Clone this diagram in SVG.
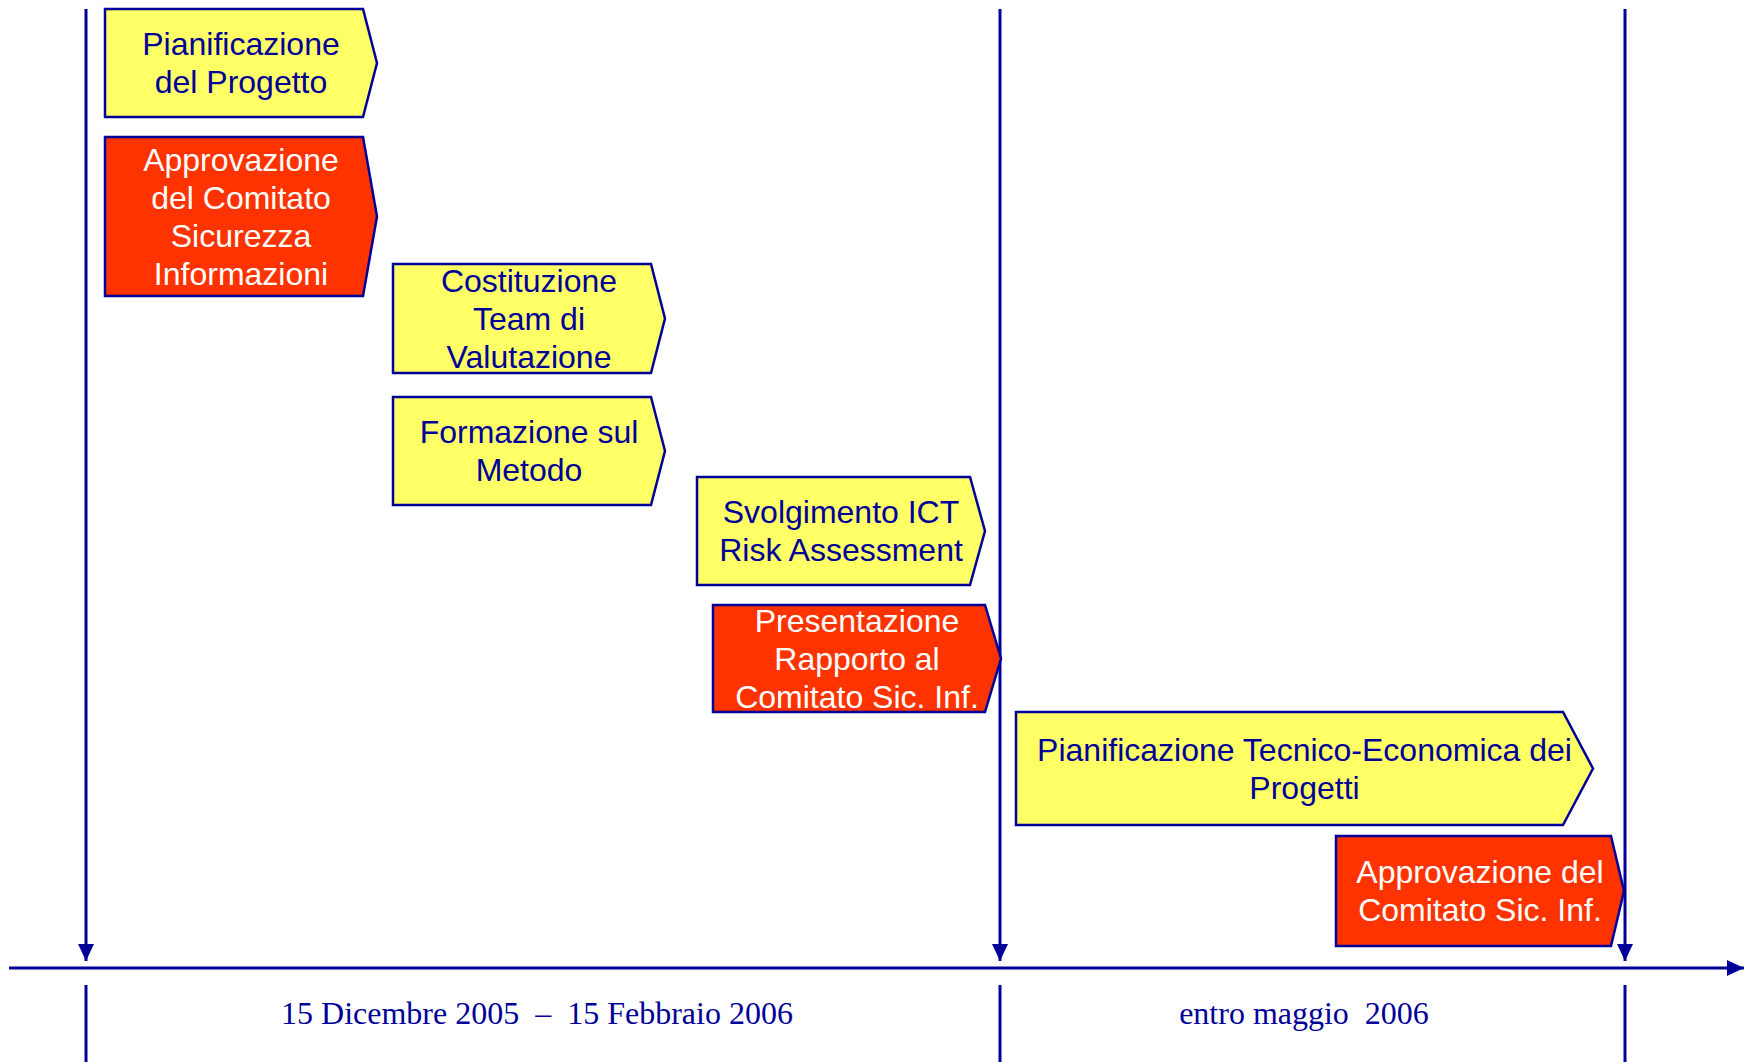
<svg xmlns="http://www.w3.org/2000/svg" width="1760" height="1062" viewBox="0 0 1760 1062">
<style>
.y{fill:#FFFF66;stroke:#000099;stroke-width:2.5;stroke-linejoin:miter}
.r{fill:#FF3300;stroke:#000099;stroke-width:2.5;stroke-linejoin:miter}
.t{font-family:"Liberation Sans",Arial,sans-serif;font-size:32px;text-anchor:middle}
.ty{fill:#000099}
.tr{fill:#FFFFFF}
.ln{stroke:#000099;stroke-width:3;fill:none}
.d{font-family:"Liberation Serif","Times New Roman",serif;font-size:32px;fill:#000099;text-anchor:middle;white-space:pre}
</style>
<defs>
<marker id="ah" markerUnits="userSpaceOnUse" markerWidth="17" markerHeight="16" refX="17" refY="8" orient="auto">
<path d="M0,0 L17,8 L0,16 z" fill="#000099"/>
</marker>
</defs>
<rect width="1760" height="1062" fill="#FFFFFF"/>
<g id="connectors">
<line class="ln" x1="9" y1="968" x2="1744" y2="968" marker-end="url(#ah)"/>
<line class="ln" x1="86" y1="9" x2="86" y2="961" marker-end="url(#ah)"/>
<line class="ln" x1="1000" y1="9" x2="1000" y2="961" marker-end="url(#ah)"/>
<line class="ln" x1="1625" y1="9" x2="1625" y2="961" marker-end="url(#ah)"/>
<line class="ln" x1="86" y1="985" x2="86" y2="1062"/>
<line class="ln" x1="1000" y1="985" x2="1000" y2="1062"/>
<line class="ln" x1="1625" y1="985" x2="1625" y2="1062"/>
</g>
<g id="n1">
<polygon class="y" points="105,9 363,9 377,63 363,117 105,117"/>
<text class="t ty" x="241" y="55">Pianificazione</text>
<text class="t ty" x="241" y="93">del Progetto</text>
</g>
<g id="n2">
<polygon class="r" points="105,137 363,137 377,216.5 363,296 105,296"/>
<text class="t tr" x="241" y="170.5">Approvazione</text>
<text class="t tr" x="241" y="208.5">del Comitato</text>
<text class="t tr" x="241" y="246.5">Sicurezza</text>
<text class="t tr" x="241" y="284.5">Informazioni</text>
</g>
<g id="n3">
<polygon class="y" points="393,264 651,264 665,318.5 651,373 393,373"/>
<text class="t ty" x="529" y="291.5">Costituzione</text>
<text class="t ty" x="529" y="329.5">Team di</text>
<text class="t ty" x="529" y="367.5">Valutazione</text>
</g>
<g id="n4">
<polygon class="y" points="393,397 651,397 665,451 651,505 393,505"/>
<text class="t ty" x="529" y="443">Formazione sul</text>
<text class="t ty" x="529" y="481">Metodo</text>
</g>
<g id="n5">
<polygon class="y" points="697,477 970,477 985,531 970,585 697,585"/>
<text class="t ty" x="841" y="523">Svolgimento ICT</text>
<text class="t ty" x="841" y="561">Risk Assessment</text>
</g>
<g id="n6">
<polygon class="r" points="713,605 985,605 1001,658.5 985,712 713,712"/>
<text class="t tr" x="857" y="631.5">Presentazione</text>
<text class="t tr" x="857" y="669.5">Rapporto al</text>
<text class="t tr" x="857" y="707.5">Comitato Sic. Inf.</text>
</g>
<g id="n7">
<polygon class="y" points="1016,712 1563,712 1593,768.5 1563,825 1016,825"/>
<text class="t ty" x="1304.5" y="760.5">Pianificazione Tecnico-Economica dei</text>
<text class="t ty" x="1304.5" y="798.5">Progetti</text>
</g>
<g id="n8">
<polygon class="r" points="1336,836 1611,836 1624,891 1611,946 1336,946"/>
<text class="t tr" x="1480" y="883">Approvazione del</text>
<text class="t tr" x="1480" y="921">Comitato Sic. Inf.</text>
</g>
<g id="labels">
<text class="d" x="537" y="1024" xml:space="preserve">15 Dicembre 2005  –  15 Febbraio 2006</text>
<text class="d" x="1304" y="1024" xml:space="preserve">entro maggio  2006</text>
</g>
</svg>
